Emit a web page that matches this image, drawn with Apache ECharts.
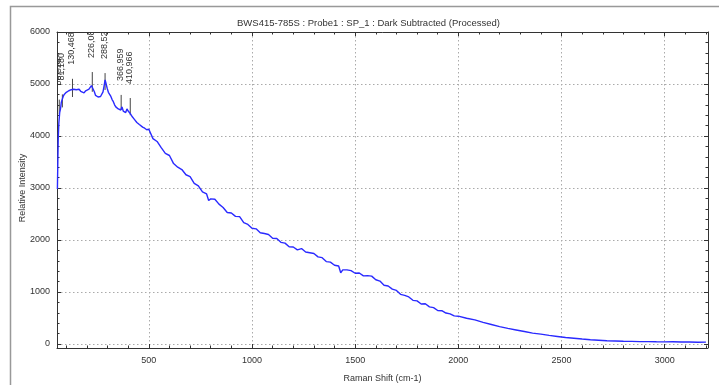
<!DOCTYPE html>
<html>
<head>
<meta charset="utf-8">
<script src="https://cdn.jsdelivr.net/npm/echarts@6/dist/echarts.min.js"></script>
<style>
  html, body { margin: 0; padding: 0; background: #fff; }
  #chart { width: 719px; height: 385px; }
</style>
</head>
<body>
<div id="chart"></div>
<script>
// Raman shift (cm-1) and intensity
const ramanShift = [
  57, 59, 61, 64, 68, 72, 76, 80, 85, 90, 95, 100, 106, 112, 118, 124, 130, 136, 142, 148,
  155, 162, 170, 178, 186, 194, 202, 210, 216, 222, 226, 230, 236, 242, 248, 254, 260, 266, 272, 278,
  284, 288, 292, 298, 304, 310, 316, 322, 328, 334, 340, 346, 352, 358, 364, 370, 376, 382, 388, 394,
  400, 406, 412, 418, 424, 430, 436, 442, 448, 454, 460, 470, 480, 490,
  500, 520, 540, 560, 580, 600, 620, 640, 660, 680, 700, 720, 740, 760, 780, 790, 800, 820, 840, 860,
  880, 900, 920, 940, 960, 980, 1000, 1020, 1040, 1060, 1080, 1100, 1120, 1140, 1160, 1180, 1200, 1220,
  1240, 1260, 1280, 1300, 1320, 1340, 1360, 1380, 1400, 1420, 1430, 1440, 1460, 1480, 1500, 1520, 1540,
  1560, 1580, 1600, 1620, 1640, 1660, 1680, 1700, 1720, 1740, 1760, 1780, 1800, 1820, 1840, 1860, 1880,
  1900, 1920, 1940, 1960, 1980, 2000, 2040, 2080, 2120, 2160, 2200, 2240, 2280, 2320, 2360, 2400, 2440,
  2480, 2520, 2560, 2600, 2640, 2680, 2720, 2760, 2800, 2840, 2880, 2920, 2960, 3000, 3040, 3080, 3120,
  3160, 3200
];
const intensity = [
  2980, 3500, 3950, 4250, 4450, 4520, 4650, 4700, 4760, 4800, 4780, 4840, 4820, 4870, 4850, 4890, 4880, 4900, 4870, 4890,
  4880, 4900, 4860, 4880, 4830, 4870, 4850, 4900, 4920, 4970, 5000, 4940, 4850, 4780, 4760, 4750, 4740, 4760, 4780, 4850,
  4980, 5080, 5020, 4920, 4840, 4800, 4760, 4700, 4660, 4600, 4560, 4580, 4520, 4550, 4500, 4560, 4480, 4460, 4450, 4520,
  4480, 4500, 4420, 4380, 4350, 4320, 4290, 4260, 4240, 4220, 4200, 4170, 4150, 4120,
  4130, 3950, 3895, 3775, 3665, 3625, 3470, 3400, 3355, 3255, 3220, 3090, 3040, 2925, 2885, 2760, 2790, 2785, 2690, 2625,
  2530, 2520, 2455, 2450, 2335, 2300, 2225, 2215, 2140, 2125, 2105, 2035, 2030, 1955, 1940, 1870, 1865, 1810,
  1835, 1770, 1755, 1740, 1675, 1660, 1585, 1575, 1515, 1500, 1370, 1425, 1425, 1410, 1360, 1365, 1310,
  1315, 1305, 1235, 1210, 1130, 1115, 1055, 1030, 955, 935, 905, 840, 830, 770, 775, 715, 700,
  645, 640, 595, 580, 540, 535, 495, 465, 415, 375, 335, 300, 270, 240, 210, 190, 165,
  145, 125, 110, 95, 82, 72, 62, 58, 52, 50, 45, 46, 42, 40, 42, 38, 38,
  35, 36
];

// labelled peaks: position, marker top/bottom intensity, label
const peakShift = [66, 81, 130, 226, 288, 366, 410];
const peakTop = [4700, 4800, 5100, 5230, 5210, 4790, 4730];
const peakBase = [4420, 4550, 4750, 4850, 4885, 4500, 4400];
const peakLabels = ['66,924', '81,180', '130,468', '226,083', '288,521', '366,959', '410,966'];

const font = 'Liberation Sans, Arial, sans-serif';
const axisColor = '#333';
const dotted = {type: [1.5, 2.5], color: '#aaa', width: 1};

const chart = echarts.init(document.getElementById('chart'));

const sideAxis = {
    type: 'value',
    axisLine: {show: true, onZero: false, lineStyle: {color: axisColor}},
    axisTick: {show: true, inside: true, length: 4, lineStyle: {color: axisColor}},
    minorTick: {show: true, splitNumber: 5, length: 2.5, lineStyle: {color: axisColor}},
    axisLabel: {show: false},
    splitLine: {show: false}
};

const option = {
    animation: false,
    backgroundColor: '#fff',
    title: {
        text: 'BWS415-785S : Probe1 : SP_1 : Dark Subtracted (Processed)',
        left: 232,
        top: 13,
        textStyle: {fontSize: 9.5, fontWeight: 'normal', color: '#333', fontFamily: font}
    },
    graphic: [{
        type: 'rect',
        shape: {x: 10.5, y: 6.5, width: 760, height: 440},
        style: {fill: 'none', stroke: '#999', lineWidth: 1.5},
        silent: true
    }],
    grid: {left: 57, right: 11, top: 32, bottom: 41, outerBoundsMode: 'none'},
    xAxis: [
        {
            type: 'value',
            min: 55,
            max: 3210,
            position: 'bottom',
            offset: 4,
            name: 'Raman Shift (cm-1)',
            nameLocation: 'middle',
            nameGap: 26,
            nameMoveOverlap: false,
            nameTextStyle: {fontSize: 9, color: '#333', fontFamily: font},
            axisLine: {show: true, onZero: false, lineStyle: {color: axisColor}},
            axisTick: {show: true, inside: true, length: 4, lineStyle: {color: axisColor}},
            minorTick: {show: true, splitNumber: 5, length: 2.5, lineStyle: {color: axisColor}},
            axisLabel: {
                showMinLabel: false, showMaxLabel: false, fontSize: 9, color: '#333', margin: 8, fontFamily: font,
                formatter: v => String(v)
            },
            splitLine: {show: true, lineStyle: dotted}
        },
        Object.assign({}, sideAxis, {min: 55, max: 3210, position: 'top'})
    ],
    yAxis: [
        {
            type: 'value',
            min: 0,
            max: 6000,
            interval: 1000,
            position: 'left',
            name: 'Relative Intensity',
            nameLocation: 'middle',
            nameGap: 30,
            nameMoveOverlap: false,
            nameTextStyle: {fontSize: 9, color: '#333', fontFamily: font},
            axisLine: {show: true, onZero: false, lineStyle: {color: axisColor}},
            axisTick: {show: true, inside: true, length: 4, lineStyle: {color: axisColor}},
            minorTick: {show: true, splitNumber: 5, length: 2.5, lineStyle: {color: axisColor}},
            axisLabel: {fontSize: 9, color: '#333', margin: 7, fontFamily: font, formatter: v => String(v)},
            splitLine: {show: true, lineStyle: dotted}
        },
        Object.assign({}, sideAxis, {min: 0, max: 6000, interval: 1000, position: 'right'})
    ],
    series: [
        {
            name: 'spectrum',
            type: 'line',
            showSymbol: false,
            clip: true,
            data: ramanShift.map((x, i) => [x, intensity[i]]),
            lineStyle: {color: '#2a2aff', width: 1.4}
        },
        {
            name: 'peaks',
            type: 'custom',
            clip: true,
            data: peakShift.map((x, i) => [x, peakTop[i], peakBase[i], i]),
            renderItem: (params, api) => {
                const top = api.coord([api.value(0), api.value(1)]);
                const base = api.coord([api.value(0), api.value(2)]);
                return {
                    type: 'group',
                    children: [
                        {
                            type: 'line',
                            shape: {x1: top[0], y1: top[1], x2: base[0], y2: base[1]},
                            style: {stroke: '#444', lineWidth: 1}
                        },
                        {
                            type: 'text',
                            x: top[0] - 1,
                            y: top[1] - 14,
                            rotation: Math.PI / 2,
                            style: {
                                text: peakLabels[api.value(3)],
                                fontSize: 9,
                                fontFamily: font,
                                fill: '#333',
                                align: 'left',
                                verticalAlign: 'middle'
                            }
                        }
                    ]
                };
            }
        }
    ]
};

chart.setOption(option);
</script>
</body>
</html>
